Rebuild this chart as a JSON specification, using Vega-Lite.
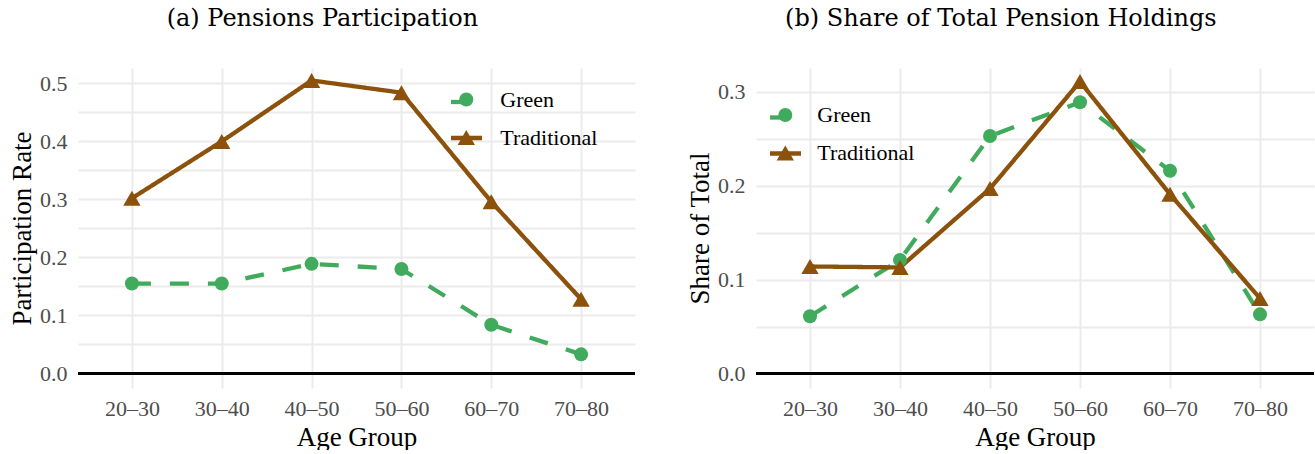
{
  "$schema": "https://vega.github.io/schema/vega-lite/v6.json",
  "padding": {"left": 8, "top": 7, "right": 0, "bottom": 0},
  "background": "white",
  "config": {
    "font": "Liberation Serif",
    "view": {"stroke": null},
    "concat": {"spacing": 49},
    "title": {"fontSize": 24, "fontWeight": "normal", "color": "black", "anchor": "middle", "frame": "bounds", "offset": 37, "font": "DejaVu Serif"},
    "axis": {
      "labelFont": "Liberation Serif", "titleFont": "Liberation Serif",
      "labelFontSize": 22, "labelColor": "#4D4D4D",
      "titleFontSize": 27, "titleFontWeight": "normal", "titleColor": "black",
      "domain": false, "ticks": false,
      "gridColor": "#EBEBEB", "gridWidth": 2
    },
    "legend": {"labelFont": "Liberation Serif", "labelFontSize": 22, "labelColor": "black"}
  },
  "datasets": {
    "participation": [
      {"age": "20–30", "series": "Green", "value": 0.155},
      {"age": "30–40", "series": "Green", "value": 0.155},
      {"age": "40–50", "series": "Green", "value": 0.189},
      {"age": "50–60", "series": "Green", "value": 0.180},
      {"age": "60–70", "series": "Green", "value": 0.084},
      {"age": "70–80", "series": "Green", "value": 0.033},
      {"age": "20–30", "series": "Traditional", "value": 0.302},
      {"age": "30–40", "series": "Traditional", "value": 0.400},
      {"age": "40–50", "series": "Traditional", "value": 0.505},
      {"age": "50–60", "series": "Traditional", "value": 0.484},
      {"age": "60–70", "series": "Traditional", "value": 0.296},
      {"age": "70–80", "series": "Traditional", "value": 0.128}
    ],
    "share": [
      {"age": "20–30", "series": "Green", "value": 0.061},
      {"age": "30–40", "series": "Green", "value": 0.121},
      {"age": "40–50", "series": "Green", "value": 0.253},
      {"age": "50–60", "series": "Green", "value": 0.289},
      {"age": "60–70", "series": "Green", "value": 0.216},
      {"age": "70–80", "series": "Green", "value": 0.063},
      {"age": "20–30", "series": "Traditional", "value": 0.114},
      {"age": "30–40", "series": "Traditional", "value": 0.113},
      {"age": "40–50", "series": "Traditional", "value": 0.197},
      {"age": "50–60", "series": "Traditional", "value": 0.311},
      {"age": "60–70", "series": "Traditional", "value": 0.191},
      {"age": "70–80", "series": "Traditional", "value": 0.080}
    ]
  },
  "resolve": {
    "scale": {"color": "independent", "stroke": "independent", "shape": "independent", "strokeDash": "independent", "size": "independent"},
    "legend": {"color": "independent", "stroke": "independent", "shape": "independent", "strokeDash": "independent", "size": "independent"}
  },
  "hconcat": [
    {
      "width": 557, "height": 320,
      "title": {"text": "(a) Pensions Participation"},
      "data": {"name": "participation"},
      "encoding": {
        "x": {"field": "age", "type": "ordinal", "sort": null, "scale": {"type": "point", "padding": 0.6},
          "axis": {"title": "Age Group", "labelAngle": 0, "labelPadding": 10, "titlePadding": 5, "grid": true}},
        "y": {"field": "value", "type": "quantitative", "scale": {"domain": [-0.025, 0.5265], "nice": false, "zero": false},
          "axis": {"title": "Participation Rate", "grid": true, "values": [0, 0.05, 0.1, 0.15, 0.2, 0.25, 0.3, 0.35, 0.4, 0.45, 0.5],
            "labelExpr": "round(datum.value*20)%2==1 ? '' : format(datum.value, '.1f')", "labelOverlap": false,
            "labelPadding": 11, "titlePadding": 3,
            "encode": {"grid": {"update": {"strokeWidth": {"signal": "round(datum.value*20)%2==1 ? 1.3 : 2"}}}}}}
      },
      "layer": [
        {"mark": {"type": "rule", "color": "black", "strokeWidth": 2.5}, "encoding": {"x": null, "y": {"datum": 0, "type": "quantitative"}}},
        {
          "mark": {"type": "line", "strokeWidth": 4.3},
          "encoding": {
            "stroke": {"field": "series", "type": "nominal", "scale": {"range": ["#41AB5D", "#8C510A"]},
              "legend": {"title": null, "orient": "none", "legendX": 370.5, "legendY": 16, "padding": 0, "symbolType": "stroke", "symbolSize": 961, "symbolStrokeWidth": 4.3, "rowPadding": 7, "labelExpr": "''"}},
            "strokeDash": {"field": "series", "type": "nominal", "scale": {"range": [[19, 19], [1, 0]]},
              "legend": {"title": null, "orient": "none", "legendX": 370.5, "legendY": 16, "padding": 0, "symbolType": "stroke", "symbolSize": 961, "symbolStrokeWidth": 4.3, "rowPadding": 7, "labelExpr": "''"}}
          }
        },
        {
          "mark": {"type": "point", "filled": true, "opacity": 1, "strokeWidth": 0},
          "encoding": {
            "color": {"field": "series", "type": "nominal", "scale": {"domain": ["Green", "Traditional"], "range": ["#41AB5D", "#8C510A"]},
              "legend": {"title": null, "orient": "none", "legendX": 377.3, "legendY": 20.5, "padding": 0, "labelOffset": 23, "rowPadding": 16, "symbolStrokeWidth": 0, "symbolOpacity": 1}},
            "shape": {"field": "series", "type": "nominal", "scale": {"domain": ["Green", "Traditional"], "range": ["circle", "triangle-up"]},
              "legend": {"title": null, "orient": "none", "legendX": 377.3, "legendY": 20.5, "padding": 0, "labelOffset": 23, "rowPadding": 16, "symbolStrokeWidth": 0, "symbolOpacity": 1}},
            "size": {"field": "series", "type": "nominal", "scale": {"domain": ["Green", "Traditional"], "range": [196, 300]},
              "legend": {"title": null, "orient": "none", "legendX": 377.3, "legendY": 20.5, "padding": 0, "labelOffset": 23, "rowPadding": 16, "symbolStrokeWidth": 0, "symbolOpacity": 1}}
          }
        }
      ]
    },
    {
      "width": 558, "height": 320,
      "title": {"text": "(b) Share of Total Pension Holdings"},
      "data": {"name": "share"},
      "encoding": {
        "x": {"field": "age", "type": "ordinal", "sort": null, "scale": {"type": "point", "padding": 0.6},
          "axis": {"title": "Age Group", "labelAngle": 0, "labelPadding": 10, "titlePadding": 5, "grid": true}},
        "y": {"field": "value", "type": "quantitative", "scale": {"domain": [-0.0155, 0.3255], "nice": false, "zero": false},
          "axis": {"title": "Share of Total", "grid": true, "values": [0, 0.05, 0.1, 0.15, 0.2, 0.25, 0.3],
            "labelExpr": "round(datum.value*20)%2==1 ? '' : format(datum.value, '.1f')", "labelOverlap": false,
            "labelPadding": 11, "titlePadding": 3,
            "encode": {"grid": {"update": {"strokeWidth": {"signal": "round(datum.value*20)%2==1 ? 1.3 : 2"}}}}}}
      },
      "layer": [
        {"mark": {"type": "rule", "color": "black", "strokeWidth": 2.5}, "encoding": {"x": null, "y": {"datum": 0, "type": "quantitative"}}},
        {
          "mark": {"type": "line", "strokeWidth": 4.3},
          "encoding": {
            "stroke": {"field": "series", "type": "nominal", "scale": {"range": ["#41AB5D", "#8C510A"]},
              "legend": {"title": null, "orient": "none", "legendX": 11.5, "legendY": 31.5, "padding": 0, "symbolType": "stroke", "symbolSize": 961, "symbolStrokeWidth": 4.3, "rowPadding": 7, "labelExpr": "''"}},
            "strokeDash": {"field": "series", "type": "nominal", "scale": {"range": [[19, 19], [1, 0]]},
              "legend": {"title": null, "orient": "none", "legendX": 11.5, "legendY": 31.5, "padding": 0, "symbolType": "stroke", "symbolSize": 961, "symbolStrokeWidth": 4.3, "rowPadding": 7, "labelExpr": "''"}}
          }
        },
        {
          "mark": {"type": "point", "filled": true, "opacity": 1, "strokeWidth": 0},
          "encoding": {
            "color": {"field": "series", "type": "nominal", "scale": {"domain": ["Green", "Traditional"], "range": ["#41AB5D", "#8C510A"]},
              "legend": {"title": null, "orient": "none", "legendX": 18.3, "legendY": 36, "padding": 0, "labelOffset": 21, "rowPadding": 16, "symbolStrokeWidth": 0, "symbolOpacity": 1}},
            "shape": {"field": "series", "type": "nominal", "scale": {"domain": ["Green", "Traditional"], "range": ["circle", "triangle-up"]},
              "legend": {"title": null, "orient": "none", "legendX": 18.3, "legendY": 36, "padding": 0, "labelOffset": 21, "rowPadding": 16, "symbolStrokeWidth": 0, "symbolOpacity": 1}},
            "size": {"field": "series", "type": "nominal", "scale": {"domain": ["Green", "Traditional"], "range": [196, 300]},
              "legend": {"title": null, "orient": "none", "legendX": 18.3, "legendY": 36, "padding": 0, "labelOffset": 21, "rowPadding": 16, "symbolStrokeWidth": 0, "symbolOpacity": 1}}
          }
        }
      ]
    }
  ]
}
